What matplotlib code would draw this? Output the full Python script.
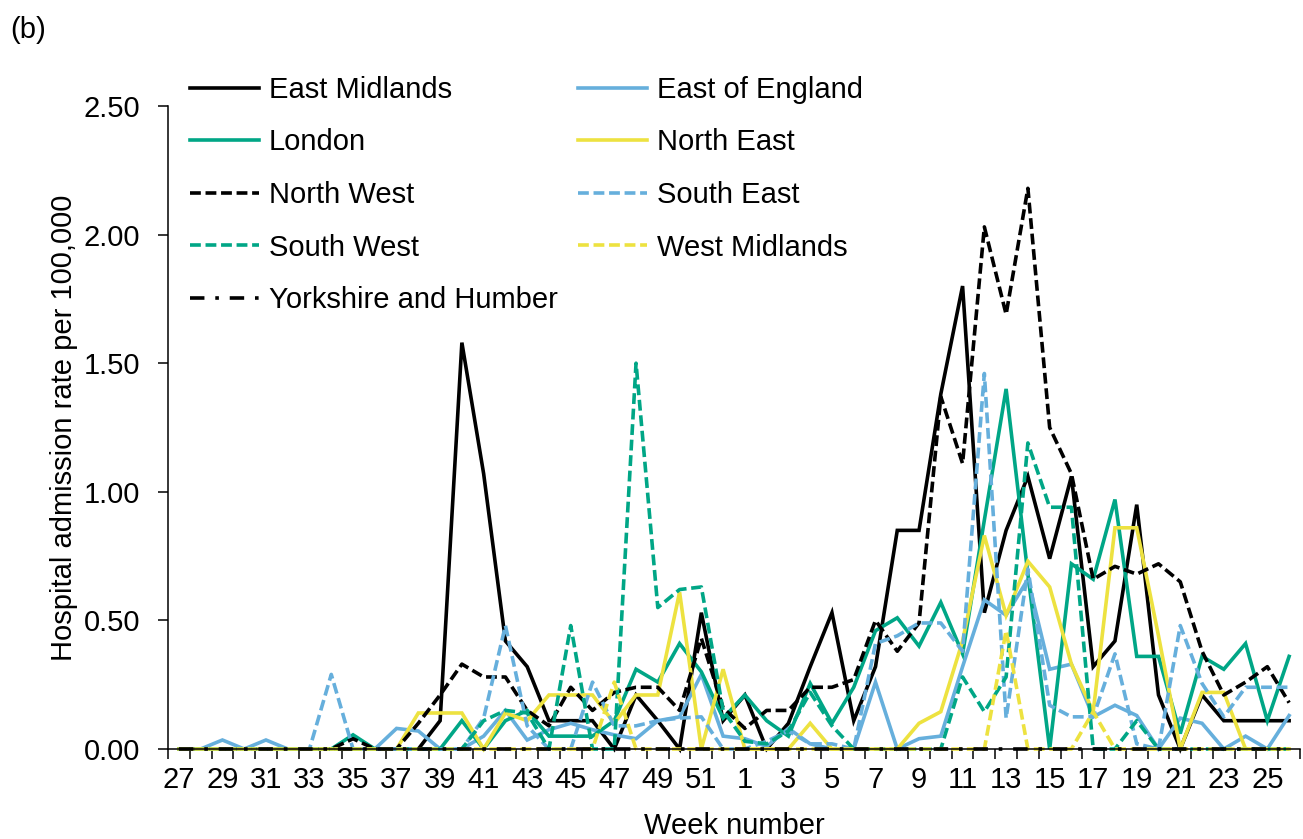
import numpy as np
import matplotlib
matplotlib.use("Agg")
import matplotlib.pyplot as plt
from matplotlib.ticker import FixedLocator, FormatStrFormatter

plt.rcParams['font.family'] = ['Liberation Sans', 'DejaVu Sans']

# week 27 of one year through week 26 of the next
weeks = list(range(27, 53)) + list(range(1, 27))

east_midlands = [0, 0, 0, 0, 0, 0, 0, 0, 0, 0, 0, 0,
                 0.11, 1.58, 1.07, 0.42, 0.32, 0.11, 0.11, 0.11, 0, 0.21, 0.11, 0, 0.53, 0.11,
                 0.21, 0, 0.1, 0.32, 0.53, 0.11, 0.32, 0.85, 0.85, 1.38, 1.80, 0.53, 0.85,
                 1.06, 0.74, 1.06, 0.32, 0.42, 0.95, 0.21, 0, 0.21, 0.11, 0.11, 0.11, 0.11]
east_of_england = [0, 0, 0.035, 0, 0.035, 0, 0, 0, 0, 0, 0.08, 0.07,
                   0, 0, 0.05, 0.15, 0.035, 0.075, 0.1, 0.075, 0.055, 0.04, 0.11, 0.125, 0.29, 0.05,
                   0.04, 0.01, 0.08, 0.02, 0, 0, 0.26, 0, 0.04, 0.05, 0.32, 0.58, 0.52,
                   0.66, 0.31, 0.33, 0.125, 0.17, 0.13, 0, 0.12, 0.1, 0, 0.05, 0, 0.13]
london = [0, 0, 0, 0, 0, 0, 0, 0, 0.055, 0, 0, 0,
          0, 0.11, 0, 0.11, 0.15, 0.05, 0.05, 0.05, 0.11, 0.31, 0.26, 0.41, 0.3, 0.12,
          0.21, 0.11, 0.05, 0.255, 0.1, 0.24, 0.46, 0.51, 0.40, 0.57, 0.37, 0.89, 1.40,
          0.68, 0, 0.72, 0.66, 0.97, 0.36, 0.36, 0.06, 0.36, 0.31, 0.41, 0.11, 0.36]
north_east = [0, 0, 0, 0, 0, 0, 0, 0, 0, 0, 0, 0.14,
              0.14, 0.14, 0, 0.14, 0.11, 0.21, 0.21, 0.21, 0.1, 0.21, 0.21, 0.61, 0, 0.31,
              0, 0, 0, 0.1, 0, 0, 0, 0, 0.1, 0.145, 0.42, 0.83, 0.52,
              0.73, 0.63, 0.33, 0.145, 0.86, 0.86, 0.44, 0, 0.22, 0.22, 0, 0, 0]
north_west = [0, 0, 0, 0, 0, 0, 0, 0, 0.04, 0, 0, 0.1,
              0.21, 0.33, 0.28, 0.28, 0.15, 0.09, 0.24, 0.15, 0.22, 0.24, 0.24, 0.15, 0.43, 0.16,
              0.08, 0.15, 0.15, 0.24, 0.24, 0.27, 0.5, 0.38, 0.49, 1.37, 1.11, 2.03, 1.69,
              2.18, 1.25, 1.07, 0.66, 0.71, 0.68, 0.72, 0.65, 0.38, 0.21, 0.26, 0.32, 0.18]
south_east = [0, 0, 0, 0, 0, 0, 0, 0.29, 0, 0, 0, 0,
              0, 0, 0.12, 0.48, 0.09, 0, 0, 0.26, 0.09, 0.09, 0.11, 0.12, 0.125, 0,
              0, 0.03, 0.07, 0.02, 0.02, 0, 0.41, 0.44, 0.49, 0.49, 0.38, 1.46, 0.12,
              0.70, 0.17, 0.125, 0.125, 0.37, 0.02, 0, 0.48, 0.255, 0.125, 0.24, 0.24, 0.24]
south_west = [0, 0, 0, 0, 0, 0, 0, 0, 0, 0, 0, 0,
              0, 0, 0.11, 0.15, 0.14, 0, 0.48, 0, 0, 1.50, 0.55, 0.62, 0.63, 0.15,
              0.03, 0.02, 0.07, 0.22, 0.09, 0, 0, 0, 0, 0, 0.28, 0.145, 0.28,
              1.19, 0.94, 0.94, 0, 0, 0.11, 0, 0, 0, 0, 0, 0, 0]
west_midlands = [0, 0, 0, 0, 0, 0, 0, 0, 0, 0, 0, 0,
                 0, 0, 0, 0, 0, 0, 0, 0, 0.26, 0, 0, 0, 0, 0,
                 0, 0, 0, 0, 0, 0, 0, 0, 0, 0, 0, 0, 0.46,
                 0, 0, 0, 0.145, 0, 0, 0, 0, 0, 0, 0, 0, 0]
yorkshire = [0] * 52

black = 'black'
blue = '#66AFDC'
teal = '#00A686'
yellow = '#EDE240'

dash = (0, (3.0, 1.3))
dashdot = (0, (4.0, 3.0, 1.0, 3.0))
series = [
    ("East Midlands", east_midlands, black, '-'),
    ("East of England", east_of_england, blue, '-'),
    ("London", london, teal, '-'),
    ("North East", north_east, yellow, '-'),
    ("North West", north_west, black, dash),
    ("South East", south_east, blue, dash),
    ("South West", south_west, teal, dash),
    ("West Midlands", west_midlands, yellow, dash),
    ("Yorkshire and Humber", yorkshire, black, dashdot),
]

W, H = 1303, 839
fig = plt.figure(figsize=(W / 100, H / 100), dpi=100)
ax = fig.add_axes([168 / W, 1 - 749 / H, 1132 / W, 643 / H])

x = np.arange(len(weeks))
lines = {}
for name, vals, col, ls in series:
    ln, = ax.plot(x, vals, color=col, linestyle=ls, lw=2.6, clip_on=False,
                  solid_joinstyle='miter', label=name)
    lines[name] = ln

ax.set_xlim(-0.5, len(weeks) - 0.5)
ax.set_ylim(0, 2.5)
ax.yaxis.set_major_locator(FixedLocator([0, 0.5, 1.0, 1.5, 2.0, 2.5]))
ax.yaxis.set_major_formatter(FormatStrFormatter('%.2f'))

ax.set_xticks(x[::2])
ax.set_xticklabels([str(w) for w in weeks[::2]])
ax.set_xticks(np.arange(-0.5, len(weeks)), minor=True)
ax.tick_params(axis='x', which='major', length=0, pad=12, labelsize=21)
ax.tick_params(axis='x', which='minor', length=7, width=1.1, direction='out')
ax.tick_params(axis='y', length=7, width=1.1, pad=13, labelsize=21)

for s in ['top', 'right']:
    ax.spines[s].set_visible(False)
for s in ['left', 'bottom']:
    ax.spines[s].set_linewidth(1.1)

ax.set_xlabel("Week number", fontsize=21, labelpad=13)
ax.set_ylabel("Hospital admission rate per 100,000", fontsize=21, labelpad=4)

order = ["East Midlands", "London", "North West", "South West", "Yorkshire and Humber",
         "East of England", "North East", "South East", "West Midlands"]
fig.legend([lines[n] for n in order], order, ncol=2, loc='upper left',
           bbox_to_anchor=(190 / W, 1 - 76 / H), frameon=False, fontsize=21,
           borderpad=0, borderaxespad=0, handlelength=2.35, handletextpad=0.35,
           columnspacing=0.7, labelspacing=0.84)

fig.text(10 / W, 1 - 30 / H, "(b)", fontsize=21, va='center', ha='left')

fig.savefig("out.png", dpi=100)
